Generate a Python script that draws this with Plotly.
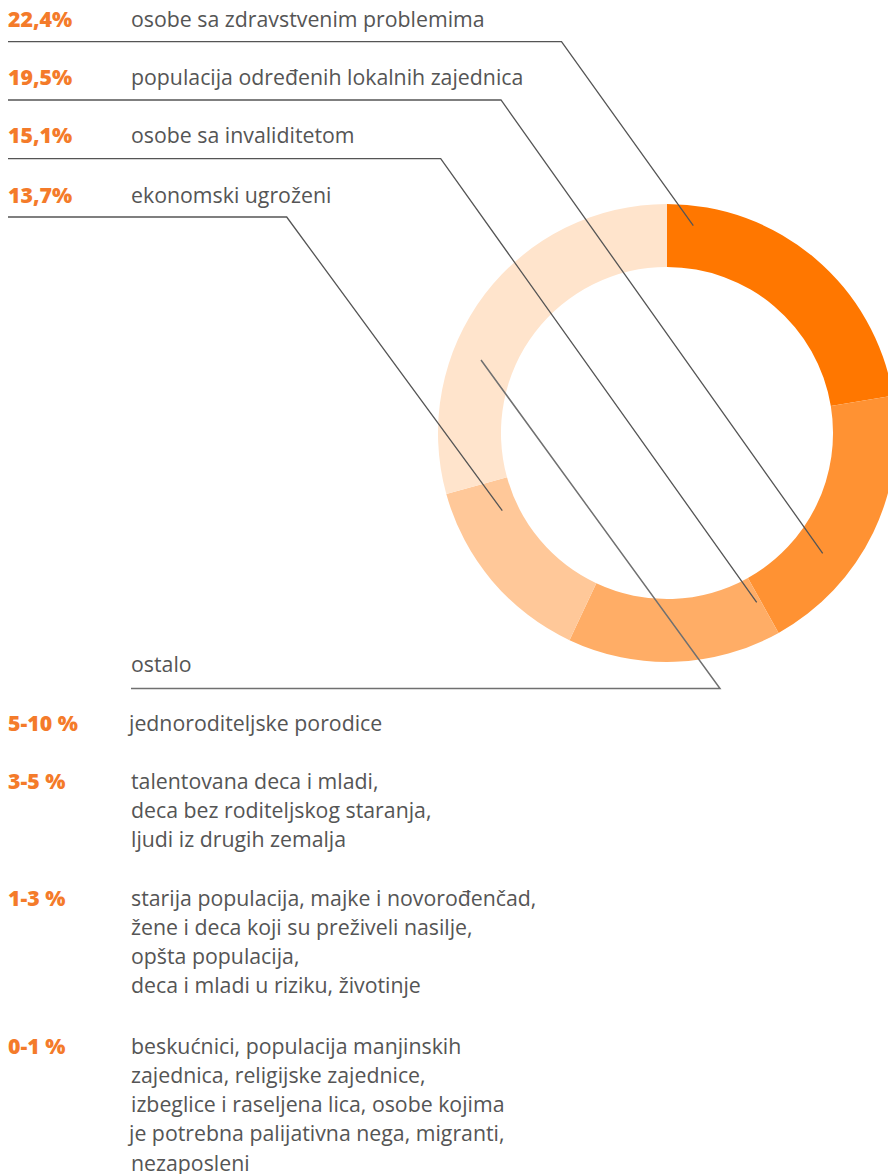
import plotly.graph_objects as go

# page body adds an 8px margin, so the figure is shifted by it
OFF = 8
W, H = 896 - OFF, 1174 - OFF

# donut data (clockwise from 12 o'clock)
groups = ['osobe sa zdravstvenim problemima', 'populacija određenih lokalnih zajednica',
          'osobe sa invaliditetom', 'ekonomski ugroženi', 'ostalo']
shares = [22.4, 19.5, 15.1, 13.7, 29.3]
share_labels = ['22,4%', '19,5%', '15,1%', '13,7%']
colors = ['#FF7700', '#FF9233', '#FFAD66', '#FFC899', '#FFE4CC']

# "ostalo" breakdown
range_labels = ['5-10 %', '3-5 %', '1-3 %', '0-1 %']
range_groups = [
    ['jednoroditeljske porodice'],
    ['talentovana deca i mladi,', 'deca bez roditeljskog staranja,', 'ljudi iz drugih zemalja'],
    ['starija populacija, majke i novorođenčad,', 'žene i deca koji su preživeli nasilje,',
     'opšta populacija,', 'deca i mladi u riziku, životinje'],
    ['beskućnici, populacija manjinskih', 'zajednica, religijske zajednice,',
     'izbeglice i raseljena lica, osobe kojima', 'je potrebna palijativna nega, migranti,',
     'nezaposleni'],
]

ORANGE = '#F47B2A'
GREY = '#555555'
FONT = 'Open Sans'


def px(x):
    return (x - OFF) / W


def py(y):
    return 1 - (y - OFF) / H


fig = go.Figure()
fig.add_trace(go.Pie(
    values=shares,
    labels=groups,
    sort=False,
    direction='clockwise',
    rotation=0,
    hole=0.725,
    textinfo='none',
    hoverinfo='skip',
    marker=dict(colors=colors, line=dict(width=0)),
    domain=dict(x=[px(438), 1], y=[py(662), py(204)]),
))

# leader lines: label row -> corner -> point in slice
leaders = [
    [(8, 41.7), (561.5, 41.7), (693.3, 225.7)],
    [(8, 100), (501, 100), (822.7, 553.3)],
    [(8, 158.7), (440.7, 158.7), (756.7, 602.3)],
    [(8, 217), (286.7, 217), (502.3, 510.7)],
    [(131, 688.5), (720, 688.5), (481, 360)],
]
shapes = []
for k, pts in enumerate(leaders):
    path = 'M ' + ' L '.join(f'{px(x):.5f} {py(y):.5f}' for x, y in pts)
    last = k == len(leaders) - 1
    shapes.append(dict(type='path', path=path, xref='paper', yref='paper',
                       line=dict(color='#707070' if last else GREY, width=1.5 if last else 1.3)))

annotations = []


def txt(x, y, s, color, bold=False):
    if s.startswith('j'):
        x -= 4  # j hangs left of the text column
    annotations.append(dict(
        x=px(x), y=py(y), xref='paper', yref='paper', text=s,
        showarrow=False, xanchor='left', yanchor='middle',
        borderpad=0, borderwidth=0,
        font=dict(family=FONT, size=21.3, color=color, weight=800 if bold else 400)))


top_rows = [18, 77, 135, 194]
for y, s, g in zip(top_rows, share_labels, groups):
    txt(8, y, s, ORANGE, bold=True)
    txt(131, y, g, GREY)
txt(131, 663, groups[4], GREY)

block_tops = [722, 780, 897, 1045]
step = 29.3
for y0, r, lines in zip(block_tops, range_labels, range_groups):
    txt(8, y0, r, ORANGE, bold=True)
    for i, line in enumerate(lines):
        txt(131, y0 + i * step, line, GREY)

fig.update_layout(
    width=W, height=H,
    margin=dict(l=0, r=0, t=0, b=0),
    paper_bgcolor='white', plot_bgcolor='white',
    showlegend=False,
    shapes=shapes,
    annotations=annotations,
)

fig.write_html("out.html")
